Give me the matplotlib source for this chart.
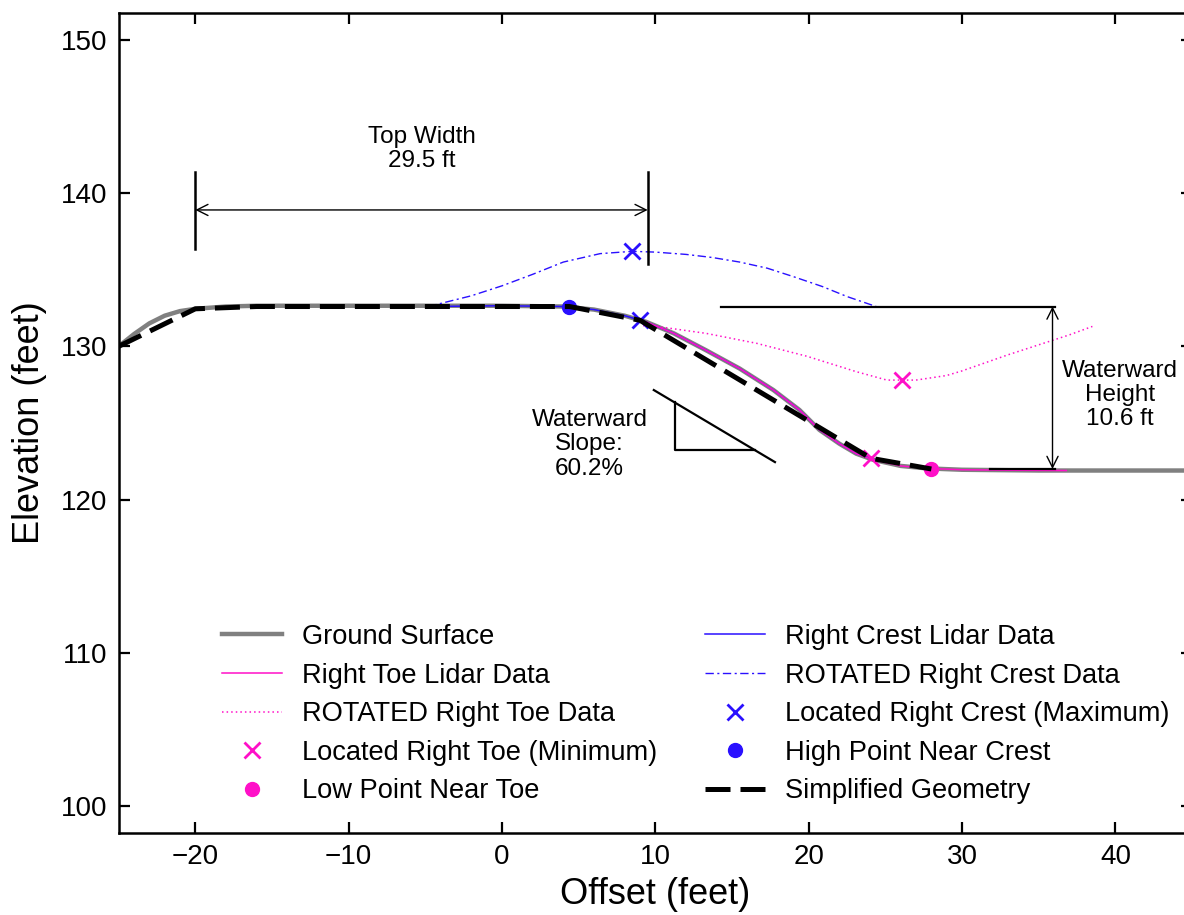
import matplotlib
matplotlib.use('Agg')
import matplotlib.pyplot as plt

plt.rcParams['font.family'] = ['Liberation Sans', 'DejaVu Sans']

# ground surface profile
ground_x = [-25, -24, -23, -22, -21, -20, -18, -16, -10, 0, 4, 6, 8, 9.4, 11.2, 13.3, 15.5,
            17.7, 19.4, 20.7, 22.0, 23.1, 24.2, 26.0, 27.7, 30, 35, 45]
ground_y = [130.0, 130.8, 131.5, 132.0, 132.3, 132.45, 132.6, 132.65, 132.65, 132.65, 132.6,
            132.4, 132.0, 131.6, 130.85, 129.75, 128.55, 127.15, 125.85, 124.55, 123.65,
            123.0, 122.6, 122.2, 122.04, 121.95, 121.9, 121.9]

# right toe lidar window
toe_x = [9.0, 9.4, 11.2, 13.3, 15.5, 17.7, 19.4, 20.7, 22.0, 23.1, 24.2, 26.0, 27.7, 30, 33, 36.8]
toe_y = [131.7, 131.6, 130.85, 129.75, 128.55, 127.15, 125.85, 124.55, 123.65, 123.0, 122.6,
         122.2, 122.04, 121.95, 121.92, 121.9]

# rotated right toe
rtoe_x = [9.2, 10.1, 13.3, 16.6, 19.9, 23.1, 25.1, 27.0, 29, 30, 31, 33, 35, 37, 38.5]
rtoe_y = [131.35, 131.3, 130.85, 130.2, 129.35, 128.35, 127.8, 127.8, 128.1, 128.4, 128.75,
          129.45, 130.1, 130.75, 131.3]

# right crest lidar window
crest_x = [-4.8, 0, 4, 6, 8, 9.4, 11.2, 13.3, 15.5, 17.7, 19.4, 20.7, 22.0, 23.1, 24.3]
crest_y = [132.6, 132.65, 132.6, 132.4, 132.0, 131.6, 130.85, 129.75, 128.55, 127.15, 125.85,
           124.55, 123.65, 123.0, 122.6]

# rotated right crest
rcrest_x = [-4.8, -2, 0, 2, 4, 6.4, 8.5, 10, 12, 13.7, 15.5, 17.3, 19, 20.9, 22.5, 24.4]
rcrest_y = [132.6, 133.3, 133.95, 134.7, 135.5, 136.05, 136.2, 136.15, 136.0, 135.8, 135.5,
            135.1, 134.55, 133.9, 133.25, 132.6]

toe_pts_x = [24.05, 26.1]
toe_pts_y = [122.7, 127.8]
low_pt = (28.0, 122.0)
crest_pts_x = [9.0, 8.5]
crest_pts_y = [131.7, 136.2]
high_pt = (4.4, 132.6)

simple_x = [-25, -20, -16, 4.4, 9.0, 24.05, 28.0]
simple_y = [130.0, 132.45, 132.6, 132.6, 131.7, 122.7, 122.0]

magenta = '#ff10c8'
blue = '#2a10ff'

fig = plt.figure(figsize=(11.84, 9.15), dpi=100)
ax = fig.add_axes([0.1002, 0.0896, 0.9066, 0.8962])

ax.plot(ground_x, ground_y, color='#808080', lw=3.2, label='Ground Surface', zorder=1.8)
ax.plot(toe_x, toe_y, color=magenta, lw=1.1, label='Right Toe Lidar Data')
ax.plot(rtoe_x, rtoe_y, color=magenta, lw=1.1, ls=(0, (1, 2)), label='ROTATED Right Toe Data')
ax.plot(toe_pts_x, toe_pts_y, 'x', color=magenta, ms=12, mew=2, label='Located Right Toe (Minimum)')
ax.plot(*low_pt, 'o', color=magenta, ms=10, label='Low Point Near Toe')
ax.plot(crest_x, crest_y, color=blue, lw=1.1, label='Right Crest Lidar Data', zorder=1.9)
ax.plot(rcrest_x, rcrest_y, color=blue, lw=1.0, ls=(0, (6, 2.5, 1.5, 2.5)),
        label='ROTATED Right Crest Data')
ax.plot(crest_pts_x, crest_pts_y, 'x', color=blue, ms=12, mew=2, label='Located Right Crest (Maximum)')
ax.plot(*high_pt, 'o', color=blue, ms=10, label='High Point Near Crest')
ax.plot(simple_x, simple_y, color='black', lw=3.6, ls=(0, (5, 2)), label='Simplified Geometry')

# top width annotation
ax.plot([-20, -20], [136.35, 141.4], color='black', lw=1.8)
ax.plot([9.5, 9.5], [135.4, 141.4], color='black', lw=1.8)
ax.annotate('', xy=(-20, 138.9), xytext=(9.5, 138.9),
            arrowprops=dict(arrowstyle='<->', lw=1, color='black', shrinkA=0, shrinkB=0,
                            mutation_scale=20))
ax.text(-5.25, 142.85, 'Top Width\n29.5 ft', ha='center', va='center', fontsize=17.5,
        linespacing=1.12)

# waterward height annotation
ax.plot([14.3, 36.06], [132.6, 132.6], color='black', lw=1.6)
ax.plot([31.8, 36.06], [122.0, 122.0], color='black', lw=1.6)
ax.annotate('', xy=(35.9, 132.6), xytext=(35.9, 122.0),
            arrowprops=dict(arrowstyle='<->', lw=1, color='black', shrinkA=0, shrinkB=0,
                            mutation_scale=20))
ax.text(40.3, 126.8, 'Waterward\nHeight\n10.6 ft', ha='center', va='center', fontsize=17.5,
        linespacing=1.12)

# waterward slope triangle
ax.plot([9.9, 17.8], [127.15, 122.45], color='black', lw=1.6)
ax.plot([11.27, 11.27, 16.5], [126.35, 123.22, 123.22], color='black', lw=1.6)
ax.text(5.7, 123.6, 'Waterward\nSlope:\n60.2%', ha='center', va='center', fontsize=17.5,
        linespacing=1.12)

ax.set_xlim(-25, 45)
ax.set_ylim(98.25, 151.75)
ax.set_xticks(range(-20, 50, 10))
ax.set_yticks(range(100, 160, 10))
ax.tick_params(direction='in', length=8, width=1.6, labelsize=20, pad=8,
               top=True, right=True)
for s in ax.spines.values():
    s.set_linewidth(1.8)
ax.set_xlabel('Offset (feet)', fontsize=26, labelpad=5)
ax.set_ylabel('Elevation (feet)', fontsize=26, labelpad=10)

ax.legend(ncol=2, loc='upper left', bbox_to_anchor=(222 / 1184, 1 - 624 / 915),
          bbox_transform=fig.transFigure, frameon=False, fontsize=19.6, numpoints=1,
          handlelength=2.2, handletextpad=0.75, columnspacing=1.74, labelspacing=0.46,
          borderpad=0, borderaxespad=0)

fig.savefig('out.png', dpi=100)
